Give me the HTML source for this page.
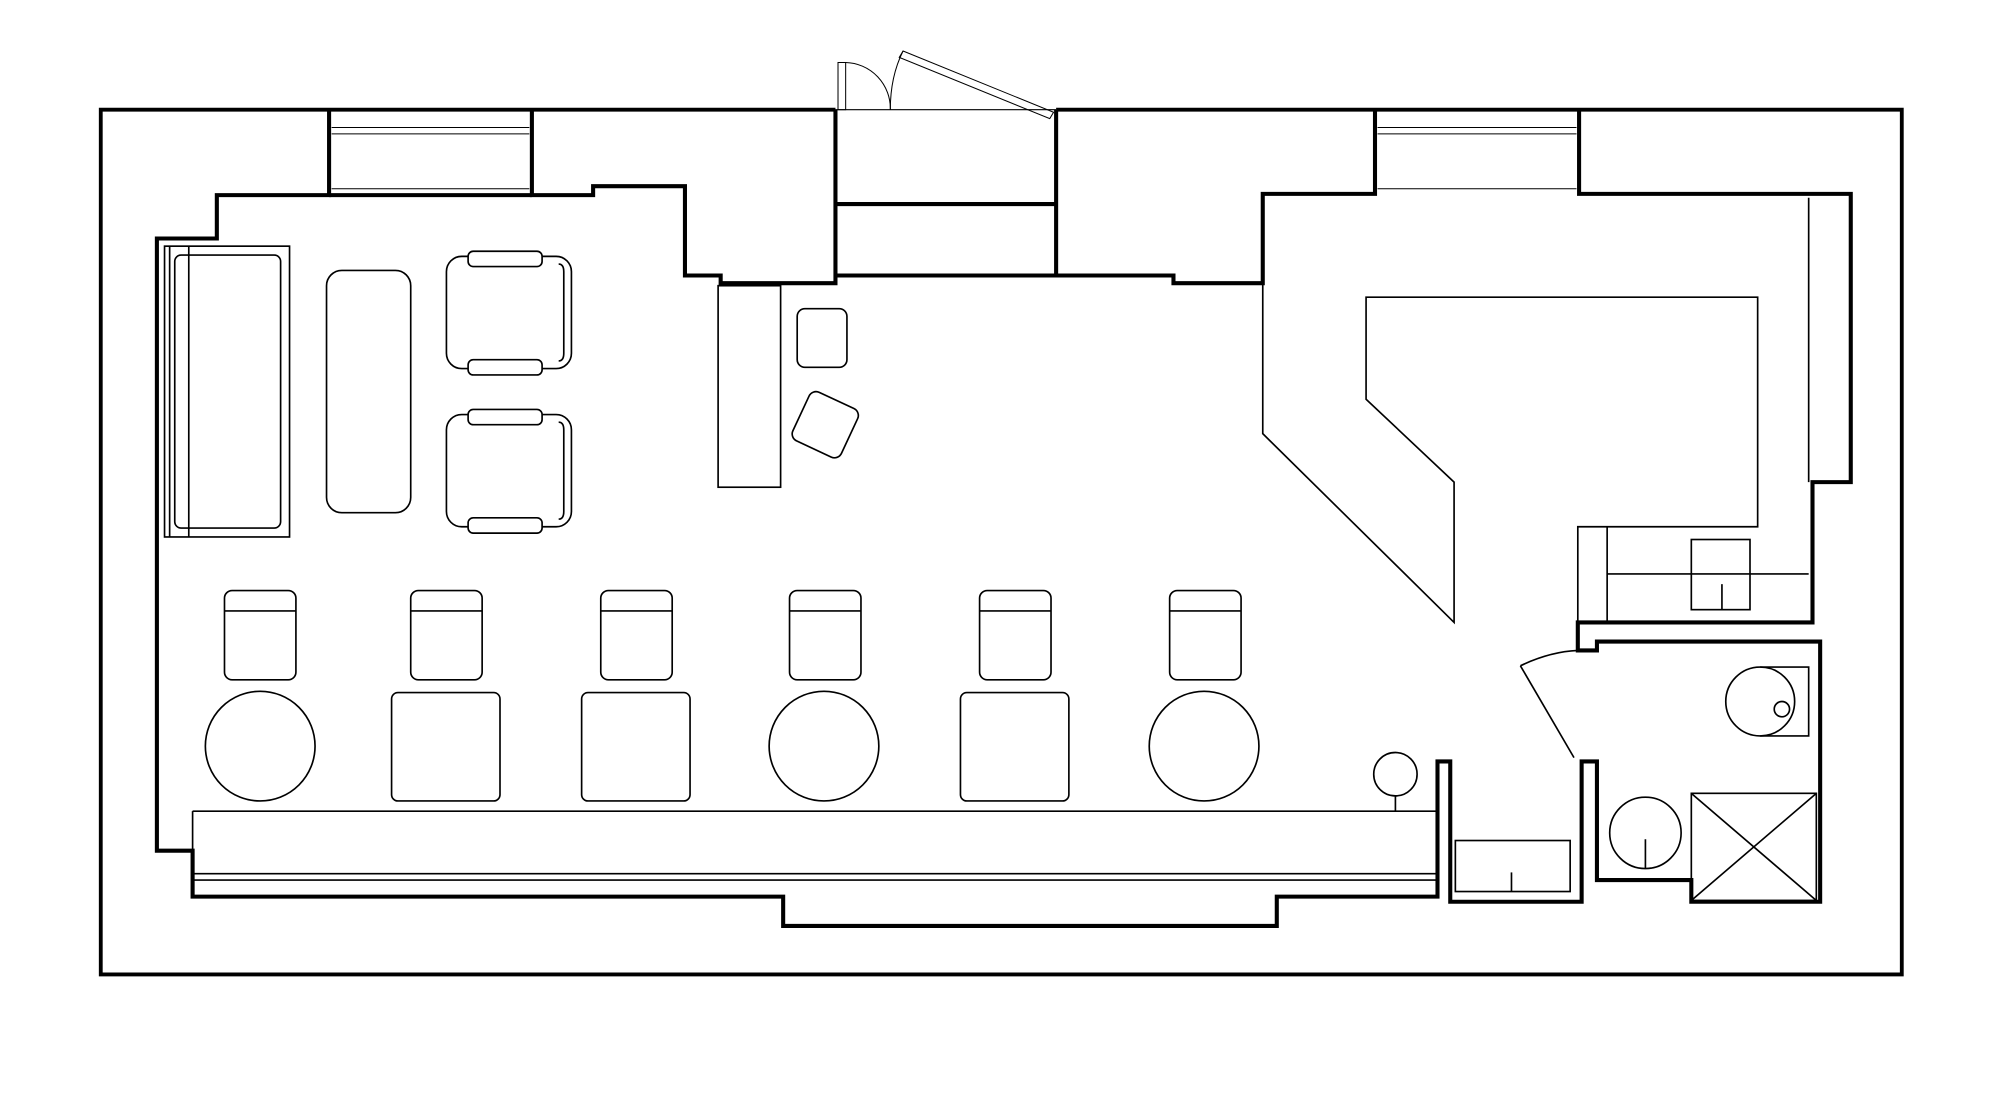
<!DOCTYPE html>
<html><head><style>html,body{margin:0;padding:0;background:#fff}svg{display:block}</style></head>
<body>
<svg width="2000" height="1109" viewBox="0 0 1568 869.5" preserveAspectRatio="none" xmlns="http://www.w3.org/2000/svg">
<rect width="1568" height="870" fill="#fff"/>
<g fill="none" stroke="#000" stroke-linejoin="miter">
<path d="M655,86 H79 V764 H1491 V86 H828" stroke-width="3"/>
<g stroke-width="3.2">
<path d="M258,86 V153 H170 V187 H123 V667 H151 V703 H614 V726 H1001 V703 H1127 V597 H1137 V707 H1240 V597 H1252 V690 H1326 V707 H1427 V503 H1252 V510 H1237 V488 H1421 V378 H1451 V152 H1238 V86"/>
<path d="M1078,86 V152 H990 V222 H920 V216 H828 V86"/>
<path d="M655,86 V222 H565 V216 H537 V146 H465 V153 H417 V86"/>
<path d="M417,153 H258"/>
<path d="M655,160 H828"/>
<path d="M655,216 H828"/>
</g>
<g stroke-width="0.8">
<path d="M260,100 H415 M260,105 H415 M260,148 H415"/>
<path d="M1080,100 H1236 M1080,105 H1236 M1080,148 H1236"/>
<path d="M655,86 H828"/>
<rect x="657" y="49" width="6" height="37"/>
<path d="M663,49 A36,36 0 0 1 698,86"/>
<path d="M708,40 L826,88 L823,93 L705,45 Z"/>
<path d="M708,40 Q698,60 698,86"/>
</g>
<g stroke-width="1.3">
<rect x="129" y="193" width="98" height="228"/>
<rect x="137" y="200" width="83" height="214" rx="5"/>
<path d="M148,193 V421 M133,193 V421"/>
<rect x="256" y="212" width="66" height="190" rx="12"/>
<rect x="350" y="201" width="98" height="88" rx="12"/>
<rect x="367" y="197" width="58" height="12" rx="4" fill="#fff"/>
<rect x="367" y="282" width="58" height="12" rx="4" fill="#fff"/>
<path d="M438,207 Q442,207 442,213 V277 Q442,283 438,283"/>
<rect x="350" y="325" width="98" height="88" rx="12"/>
<rect x="367" y="321" width="58" height="12" rx="4" fill="#fff"/>
<rect x="367" y="406" width="58" height="12" rx="4" fill="#fff"/>
<path d="M438,331 Q442,331 442,337 V401 Q442,407 438,407"/>
<rect x="563" y="224" width="49" height="158"/>
<rect x="625" y="242" width="39" height="46" rx="6"/>
<rect x="626" y="312" width="42" height="42" rx="6" transform="rotate(25 647 333)"/>
<g id="c"><rect x="176" y="463" width="56" height="70" rx="6"/><path d="M176,479 H232"/></g>
<use href="#c" x="146"/><use href="#c" x="295"/><use href="#c" x="443"/><use href="#c" x="592"/><use href="#c" x="741"/>
<circle cx="204" cy="585" r="43"/>
<rect x="307" y="543" width="85" height="85" rx="5"/>
<rect x="456" y="543" width="85" height="85" rx="5"/>
<circle cx="646" cy="585" r="43"/>
<rect x="753" y="543" width="85" height="85" rx="5"/>
<circle cx="944" cy="585" r="43"/>
<circle cx="1094" cy="607" r="17"/>
<path d="M1094,624 V636"/>
<path d="M151,636 H1127 M151,685 H1127 M151,690 H1127 M151,636 V697"/>
<path d="M990,222 V340 L1140,488 V378 L1071,313 V233 H1378 V413 H1237 V488"/>
<path d="M1418,155 V378 M1260,413 V488 M1260,450 H1418"/>
<rect x="1326" y="423" width="46" height="55"/>
<path d="M1350,458 V478"/>
<path d="M1192,522 Q1215,511 1237,510"/>
<path d="M1192,522 L1234,594"/>
<path d="M1380,523 H1418 V577 H1380"/>
<circle cx="1380" cy="550" r="27"/>
<circle cx="1397" cy="556" r="6"/>
<circle cx="1290" cy="653" r="28"/>
<path d="M1290,658 V681"/>
<rect x="1326" y="622" width="98" height="84"/>
<path d="M1326,622 L1424,706 M1424,622 L1326,706"/>
<rect x="1141" y="659" width="90" height="40"/>
<path d="M1185,684 V699"/>
</g>
</g>
</svg>
</body></html>
